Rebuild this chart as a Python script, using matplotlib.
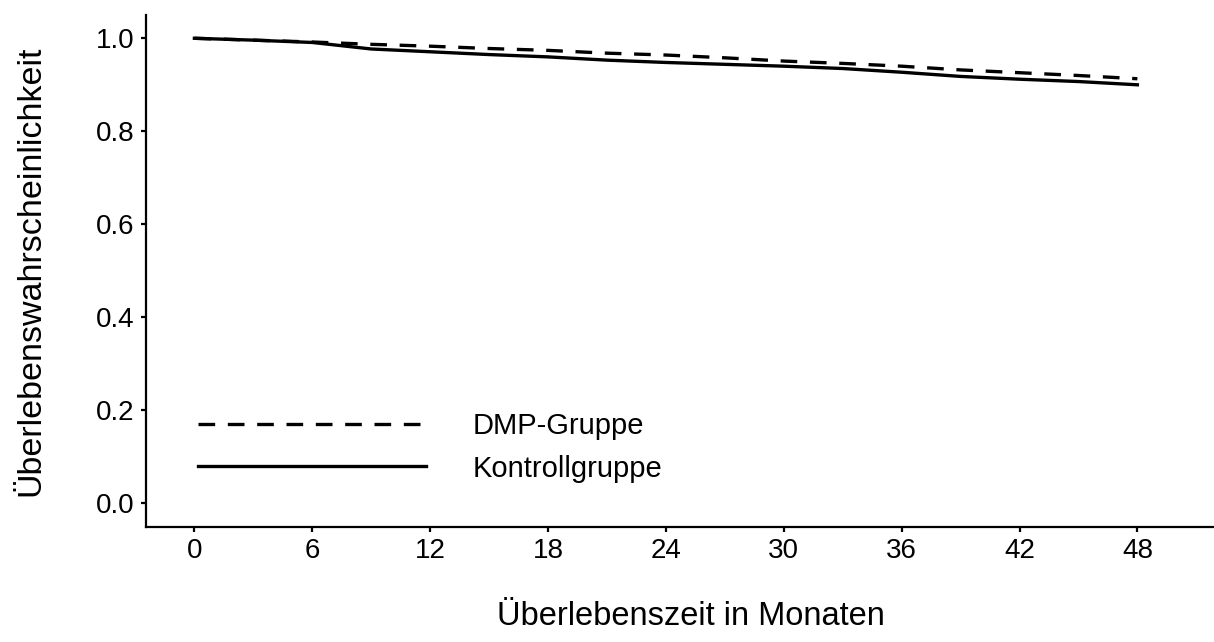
import numpy as np
import matplotlib.pyplot as plt
from matplotlib.ticker import FormatStrFormatter

plt.rcParams['font.family'] = ['Liberation Sans', 'DejaVu Sans']

# survival curves, read at 3-month steps
months = [0, 3, 6, 9, 12, 15, 18, 21, 24, 27, 30, 33, 36, 39, 42, 45, 48]
dmp = [1.000, 0.996, 0.992, 0.987, 0.983, 0.978, 0.974, 0.968, 0.964,
       0.958, 0.951, 0.946, 0.940, 0.932, 0.926, 0.920, 0.913]
kontroll = [1.000, 0.996, 0.991, 0.977, 0.971, 0.965, 0.960, 0.953, 0.948,
            0.944, 0.940, 0.935, 0.927, 0.918, 0.912, 0.907, 0.900]

x_ticks = [0, 6, 12, 18, 24, 30, 36, 42, 48]
y_ticks = [0.0, 0.2, 0.4, 0.6, 0.8, 1.0]

fig = plt.figure(figsize=(12.14, 6.42), dpi=100)
ax = fig.add_axes([0.120, 0.1796, 0.880, 0.797])

ax.plot(months, dmp, color='black', lw=2.4, ls=(0, (5.0, 3.8)),
        label='DMP-Gruppe')
ax.plot(months, kontroll, color='black', lw=2.4, ls='-',
        label='Kontrollgruppe')

ax.set_xlim(-2.48, 51.9)
ax.set_ylim(-0.05, 1.05)
ax.set_xticks(x_ticks)
ax.set_yticks(y_ticks)
ax.yaxis.set_major_formatter(FormatStrFormatter('%.1f'))

for side in ['top', 'right']:
    ax.spines[side].set_visible(False)
for side in ['left', 'bottom']:
    ax.spines[side].set_linewidth(1.6)
ax.tick_params(axis='both', labelsize=20, width=1.6, length=3.8,
               pad=4.5, colors='black')

ax.set_xlabel('Überlebenszeit in Monaten', fontsize=23.5)
ax.xaxis.set_label_coords(0.51, -0.145)
ax.set_ylabel('Überlebenswahrscheinlichkeit', fontsize=24.5)
ax.yaxis.set_label_coords(-0.093, 0.5)

leg = ax.legend(loc='lower left', bbox_to_anchor=(0.049, 0.086),
                frameon=False, fontsize=21, handlelength=7.8,
                handletextpad=1.6, labelspacing=0.5, borderpad=0,
                borderaxespad=0)

fig.savefig('out.png', dpi=100)
